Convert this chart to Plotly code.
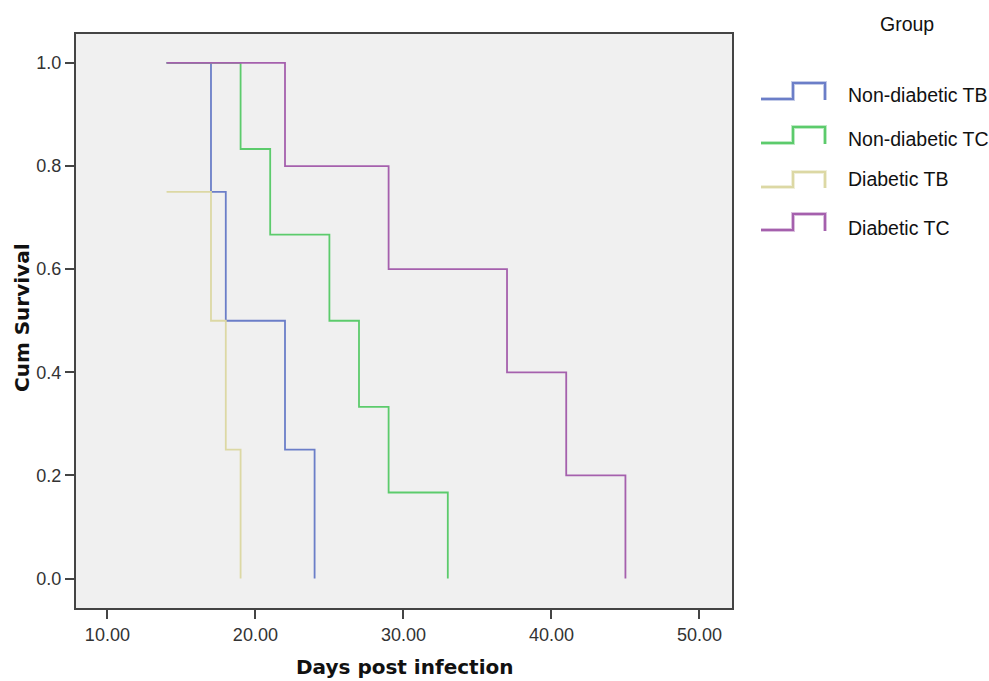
import plotly.graph_objects as go

# ---- data ----
groups = ["Non-diabetic TB", "Non-diabetic TC", "Diabetic TB", "Diabetic TC"]
ndtb_days = [14, 17, 18, 22, 24]
ndtb_surv = [1.0, 0.75, 0.5, 0.25, 0.0]
ndtc_days = [14, 19, 21, 25, 27, 29, 33]
ndtc_surv = [1.0, 0.833, 0.667, 0.5, 0.333, 0.167, 0.0]
dtb_days = [14, 17, 18, 19]
dtb_surv = [0.75, 0.5, 0.25, 0.0]
dtc_days = [14, 22, 29, 37, 41, 45]
dtc_surv = [1.0, 0.8, 0.6, 0.4, 0.2, 0.0]
x_ticks = [10, 20, 30, 40, 50]
x_tick_labels = ["10.00", "20.00", "30.00", "40.00", "50.00"]
y_ticks = [0.0, 0.2, 0.4, 0.6, 0.8, 1.0]
y_tick_labels = ["0.0", "0.2", "0.4", "0.6", "0.8", "1.0"]

colors = ["#6b7ec8", "#5ccb6c", "#dcd8a4", "#a560ad"]
series = [(ndtb_days, ndtb_surv), (ndtc_days, ndtc_surv), (dtb_days, dtb_surv), (dtc_days, dtc_surv)]

W, H = 989, 681
L, R, T, B = 76, 257, 34, 73
pw, ph = W - L - R, H - T - B

def px2paper(px, py):
    return (px - L) / pw, (H - B - py) / ph

fig = go.Figure()
for name, (xs, ys), c in zip(groups, series, colors):
    fig.add_trace(go.Scatter(x=xs, y=ys, mode="lines", line=dict(color=c, width=1.8, shape="hv"),
                             name=name, showlegend=False))

FONT = "Liberation Sans, Arial, sans-serif"
BFONT = "DejaVu Sans, sans-serif"

# custom legend with step icons
legend_rows = [(99, 83, 95), (143, 127, 139), (187, 172, 179), (230, 214, 228)]
shapes = []
annotations = []
for name, c, (yb, yt, yc) in zip(groups, colors, legend_rows):
    pts = [(761, yb), (793, yb), (793, yt), (825, yt), (825, yb + 1)]
    path = ""
    for i, (a, b) in enumerate(pts):
        xp, yp = px2paper(a, b)
        path += ("M" if i == 0 else "L") + f"{xp:.5f},{yp:.5f} "
    shapes.append(dict(type="path", path=path, xref="paper", yref="paper",
                       line=dict(color=c, width=4), opacity=0.4))
    shapes.append(dict(type="path", path=path, xref="paper", yref="paper",
                       line=dict(color=c, width=2)))
    xp, yp = px2paper(846, yc)
    annotations.append(dict(text=name, x=xp, y=yp, xref="paper", yref="paper", xanchor="left",
                            yanchor="middle", showarrow=False, font=dict(family=FONT, size=19.5, color="#111")))

xp, yp = px2paper(907, 24)
annotations.append(dict(text="Group", x=xp, y=yp, xref="paper", yref="paper", xanchor="center",
                        yanchor="middle", showarrow=False, font=dict(family=FONT, size=19.5, color="#111")))
xp, yp = px2paper(405, 667)
annotations.append(dict(text="<b>Days post infection</b>", x=xp, y=yp, xref="paper", yref="paper",
                        xanchor="center", yanchor="middle", showarrow=False,
                        font=dict(family=BFONT, size=20, color="#111")))
xp, yp = px2paper(22, 318)
annotations.append(dict(text="<b>Cum Survival</b>", x=xp, y=yp, xref="paper", yref="paper",
                        xanchor="center", yanchor="middle", showarrow=False, textangle=-90,
                        font=dict(family=BFONT, size=20, color="#111")))

fig.update_layout(
    width=W, height=H,
    margin=dict(l=L, r=R, t=T, b=B, pad=0),
    paper_bgcolor="white",
    plot_bgcolor="#f0f0f0",
    shapes=shapes,
    annotations=annotations,
    showlegend=False,
    xaxis=dict(range=[7.88, 52.2], tickvals=x_ticks, ticktext=x_tick_labels,
               showgrid=False, zeroline=False, showline=True, mirror=True,
               linecolor="#444", linewidth=2, ticks="outside", ticklen=9, tickwidth=2,
               tickcolor="#444", tickfont=dict(family=FONT, size=18, color="#333")),
    yaxis=dict(range=[-0.057, 1.056], tickvals=y_ticks, ticktext=y_tick_labels,
               showgrid=False, zeroline=False, showline=True, mirror=True,
               linecolor="#444", linewidth=2, ticks="outside", ticklen=9, tickwidth=2,
               tickcolor="#444", tickfont=dict(family=FONT, size=18, color="#333")),
)

fig.write_html("out.html", config={"displayModeBar": False},
               post_script="document.body.style.margin='0';")
